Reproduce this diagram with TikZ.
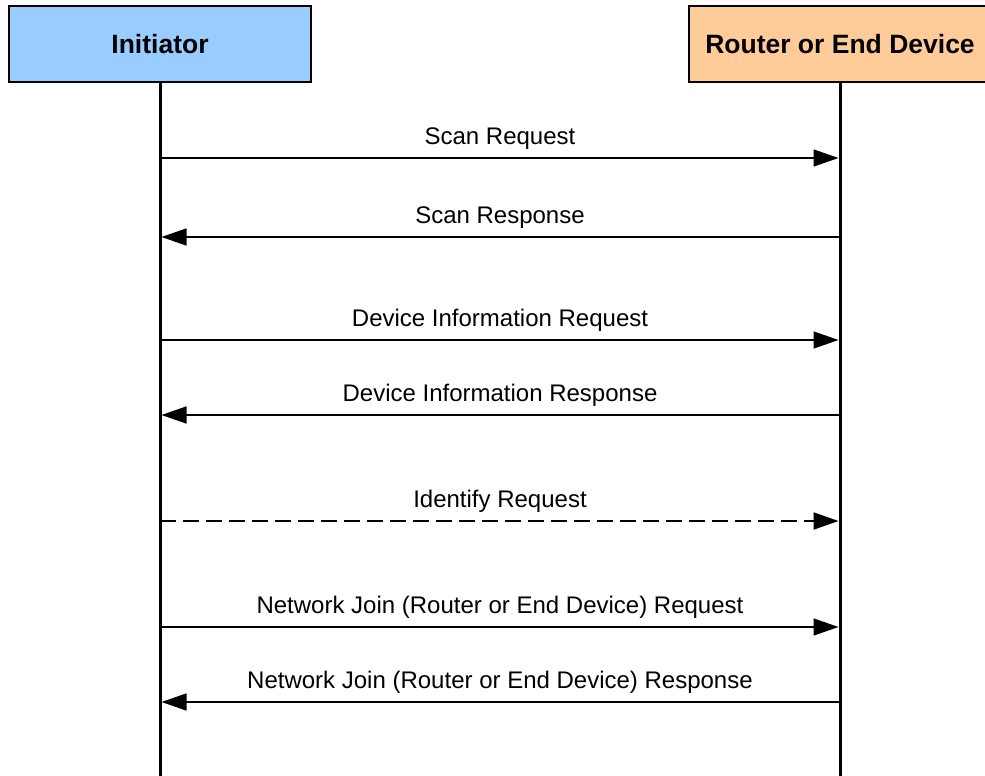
\documentclass[tikz,border=0pt]{standalone}
\usepackage{fontspec}
\setmainfont{Liberation Sans}
\usetikzlibrary{arrows.meta}
\definecolor{initblue}{HTML}{99CCFF}
\definecolor{devorange}{HTML}{FFCC99}
\tikzset{
  actor/.style={draw,line width=1.5pt,minimum width=302pt,minimum height=76pt,font=\fontsize{26.5}{31}\selectfont\bfseries},
  lifeline/.style={line width=3pt},
  msg/.style={line width=1.5pt,-{Triangle[length=25pt,width=17pt]},shorten >=1.5pt},
  lbl/.style={anchor=base,yshift=14pt,font=\fontsize{24}{28}\selectfont},
}
\begin{document}
\begin{tikzpicture}[x=1pt,y=-1pt]
\clip (0,0) rectangle (985,776);
\node[actor,fill=initblue](init) at (160,44) {Initiator};
\node[actor,fill=devorange](dev) at (840,44) {Router or End Device};
\coordinate (initend) at (160,776);
\coordinate (devend) at (840,776);
\draw[lifeline](init.south)--(initend);
\draw[lifeline](dev.south)--(devend);
\coordinate (i1) at (160,158); \coordinate (d1) at (840,158);
\coordinate (i2) at (160,237); \coordinate (d2) at (840,237);
\coordinate (i3) at (160,340); \coordinate (d3) at (840,340);
\coordinate (i4) at (160,415); \coordinate (d4) at (840,415);
\coordinate (i5) at (160,521); \coordinate (d5) at (840,521);
\coordinate (i6) at (160,627); \coordinate (d6) at (840,627);
\coordinate (i7) at (160,702); \coordinate (d7) at (840,702);
\draw[msg](i1)--(d1)node[lbl,midway](l1){Scan Request};
\draw[msg](d2)--(i2)node[lbl,midway](l2){Scan Response};
\draw[msg](i3)--(d3)node[lbl,midway](l3){Device Information Request};
\draw[msg](d4)--(i4)node[lbl,midway](l4){Device Information Response};
\draw[msg,line width=2pt,dash pattern=on 16pt off 7pt](i5)--(d5)node[lbl,midway](l5){Identify Request};
\draw[msg](i6)--(d6)node[lbl,midway](l6){Network Join (Router or End Device) Request};
\draw[msg](d7)--(i7)node[lbl,midway](l7){Network Join (Router or End Device) Response};
\end{tikzpicture}
\end{document}
